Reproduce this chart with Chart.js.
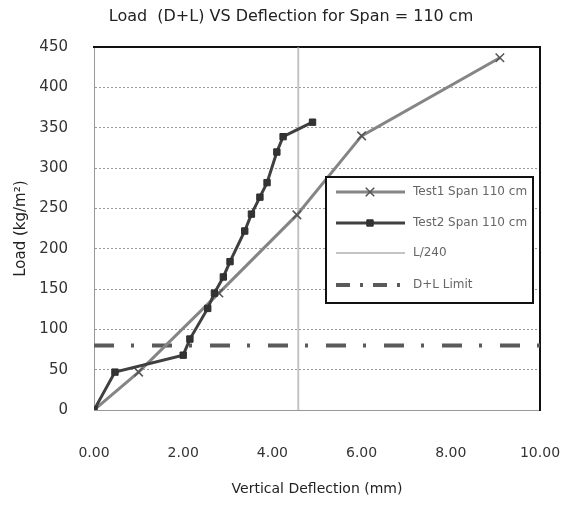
<!DOCTYPE html>
<html>
<head>
<meta charset="utf-8">
<script src="https://cdn.jsdelivr.net/npm/chart.js@4/dist/chart.umd.min.js"></script>
<style>
  html, body { margin: 0; padding: 0; background: #fff; }
  #wrap { width: 564px; height: 514px; }
</style>
</head>
<body>
<div id="wrap"><canvas id="myChart" width="564" height="514"></canvas></div>
<script>
// values (deflection in mm, load in kg/m2)
var test1X = [0, 1.0, 2.8, 4.55, 6.0, 9.1];
var test1Y = [0, 47, 145, 242, 340, 437];

var test2X = [0, 0.47, 2.0, 2.15, 2.55, 2.7, 2.9, 3.05, 3.38, 3.53, 3.72, 3.88, 4.1, 4.24, 4.9];
var test2Y = [0, 47, 68, 88, 126, 145, 165, 184, 222, 243, 264, 282, 320, 339, 357];

var l240X = [4.58, 4.58];
var l240Y = [0, 450];

var limitX = [0, 10];
var limitY = [80, 80];

var xTicks = [0, 2, 4, 6, 8, 10];
var yTicks = [0, 50, 100, 150, 200, 250, 300, 350, 400, 450];

var FONT = "'DejaVu Sans', sans-serif";

function toPoints(xs, ys)
{
  var pts = [];
  for (var i = 0; i < xs.length; i++) {
    pts.push({x: xs[i], y: ys[i]});
  }
  return pts;
}

// legend drawn inside the plot, like the excel one
var boxLegend = {
  id: 'boxLegend',
  afterDraw: function(chart) {
    var ctx = chart.ctx;
    var left = 326, top = 177, w = 207, h = 126;
    ctx.save();
    ctx.fillStyle = '#fff';
    ctx.fillRect(left, top, w, h);
    ctx.strokeStyle = '#111';
    ctx.lineWidth = 2;
    ctx.strokeRect(left, top, w, h);

    var rowY = [192, 223, 253, 285];
    chart.data.datasets.forEach(function(ds, i) {
      var y = rowY[i];
      ctx.save();
      ctx.strokeStyle = ds.borderColor;
      ctx.lineWidth = ds.borderWidth;
      ctx.setLineDash(ds.legendDash || ds.borderDash || []);
      ctx.beginPath();
      ctx.moveTo(336, y);
      ctx.lineTo(405, y);
      ctx.stroke();
      ctx.restore();
      if (ds.pointRadius > 0) {
        ctx.fillStyle = ds.pointBackgroundColor;
        ctx.strokeStyle = ds.pointBorderColor;
        ctx.lineWidth = ds.pointBorderWidth || 1.5;
        Chart.helpers.drawPoint(ctx, {
          pointStyle: ds.pointStyle,
          radius: ds.pointRadius,
          borderWidth: ds.pointBorderWidth || 1.5
        }, 370, y);
      }
      ctx.fillStyle = '#666';
      ctx.font = '12px ' + FONT;
      ctx.textBaseline = 'middle';
      ctx.textAlign = 'left';
      ctx.fillText(ds.label, 413, y);
    });
    ctx.restore();
  }
};

var ctx = document.getElementById('myChart').getContext('2d');

var chart = new Chart(ctx, {
  type: 'scatter',
  data: {
    datasets: [{
      label: 'Test1 Span 110 cm',
      data: toPoints(test1X, test1Y),
      showLine: true,
      borderColor: '#858585',
      borderWidth: 3,
      pointStyle: 'crossRot',
      pointRadius: 6,
      pointBorderWidth: 1.5,
      pointBorderColor: '#555',
      pointBackgroundColor: '#555',
      order: 2
    }, {
      label: 'Test2 Span 110 cm',
      data: toPoints(test2X, test2Y),
      showLine: true,
      borderColor: '#404040',
      borderWidth: 3,
      pointStyle: 'rect',
      pointRadius: 4.5,
      pointBorderWidth: 1,
      pointBorderColor: '#2e2e2e',
      pointBackgroundColor: '#333',
      order: 1
    }, {
      label: 'L/240',
      data: toPoints(l240X, l240Y),
      showLine: true,
      borderColor: '#c4c4c4',
      borderWidth: 2,
      pointRadius: 0,
      order: 4
    }, {
      label: 'D+L Limit',
      data: toPoints(limitX, limitY),
      showLine: true,
      borderColor: '#5a5a5a',
      borderWidth: 4,
      borderDash: [20, 17, 3, 18],
      legendDash: [14, 10, 3, 10],
      pointRadius: 0,
      order: 3
    }]
  },
  options: {
    responsive: false,
    animation: false,
    layout: {padding: {left: 18, right: 0, top: 0, bottom: 16}},
    plugins: {
      legend: {display: false},
      tooltip: {enabled: false},
      title: {
        display: true,
        text: 'Load  (D+L) VS Deflection for Span = 110 cm',
        color: '#222',
        font: {family: FONT, size: 16, weight: 'normal'},
        padding: {top: 7, bottom: 21}
      }
    },
    scales: {
      x: {
        type: 'linear',
        min: 0,
        max: 10,
        afterBuildTicks: function(scale) {
          scale.ticks = xTicks.map(function(v) { return {value: v}; });
        },
        afterFit: function(scale) {
          scale.height = 88;
          scale.paddingLeft = 0;
          scale.paddingRight = 0;
        },
        ticks: {
          color: '#333',
          font: {family: FONT, size: 14},
          padding: 35,
          callback: function(v) { return v.toFixed(2); }
        },
        grid: {display: false, drawTicks: false},
        border: {color: '#999', dash: [2, 2], width: 1},
        title: {
          display: true,
          text: 'Vertical Deflection (mm)',
          color: '#222',
          font: {family: FONT, size: 14},
          padding: {top: 0, bottom: 0}
        }
      },
      y: {
        type: 'linear',
        min: 0,
        max: 450,
        afterBuildTicks: function(scale) {
          scale.ticks = yTicks.map(function(v) { return {value: v}; });
        },
        afterFit: function(scale) {
          scale.width = 76;
          scale.paddingTop = 0;
          scale.paddingBottom = 0;
        },
        ticks: {
          color: '#333',
          font: {family: FONT, size: 15},
          padding: 26
        },
        grid: {color: '#999', lineWidth: 1, drawTicks: false},
        border: {color: '#999', dash: [2, 2], width: 1, display: true},
        title: {
          display: true,
          text: 'Load (kg/m²)',
          color: '#222',
          font: {family: FONT, size: 15},
          padding: {top: -6, bottom: 0}
        }
      },
      x2: {
        type: 'linear',
        position: 'top',
        min: 0,
        max: 10,
        afterFit: function(scale) { scale.height = 0; },
        ticks: {display: false},
        grid: {display: false, drawTicks: false},
        border: {color: '#111', width: 2}
      },
      y2: {
        type: 'linear',
        position: 'right',
        min: 0,
        max: 450,
        afterFit: function(scale) { scale.width = 24; },
        ticks: {display: false},
        grid: {display: false, drawTicks: false},
        border: {color: '#111', width: 2}
      }
    }
  },
  plugins: [boxLegend]
});
</script>
</body>
</html>
